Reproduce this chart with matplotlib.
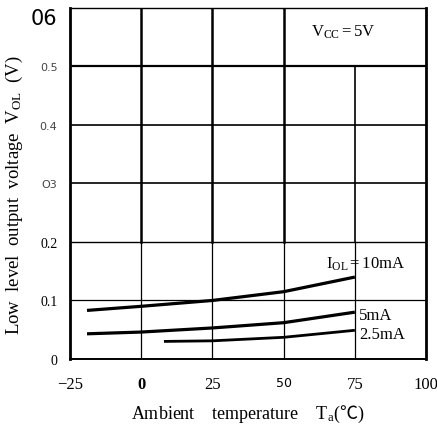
import numpy as np
import matplotlib.pyplot as plt

plt.rcParams['mathtext.fontset'] = 'custom'
plt.rcParams['mathtext.rm'] = 'Liberation Serif'
plt.rcParams['mathtext.it'] = 'Liberation Serif:italic'
plt.rcParams['mathtext.sf'] = 'Noto Sans CJK JP'

# Data
temp_ticks = [-25, 0, 25, 50, 75, 100]
temp_labels = ['\u221225', '0', '25', '50', '75', '100']
volt_ticks = [0, 0.1, 0.2, 0.3, 0.4, 0.5, 0.6]
volt_labels = ['0', '0.1', '0.2', 'O3', '0.4', '0.5', '06']

ta_10 = [-19, 0, 25, 50, 75]
vol_10 = [0.083, 0.090, 0.100, 0.115, 0.140]
ta_5 = [-19, 0, 25, 50, 75]
vol_5 = [0.043, 0.046, 0.053, 0.062, 0.080]
ta_25 = [8, 25, 50, 75]
vol_25 = [0.030, 0.031, 0.037, 0.049]

serif = ['Liberation Serif', 'DejaVu Serif']

fig = plt.figure(figsize=(4.37, 4.27), dpi=100)
ax = fig.add_axes([0.160, 0.157, 0.815, 0.822])
ax.set_xlim(-25, 100)
ax.set_ylim(0, 0.6)

# grid: heavier in the upper part, lighter below 0.2
for x in temp_ticks[1:4]:
    ax.plot([x, x], [0.2, 0.6], color='black', lw=1.8, zorder=1)
    ax.plot([x, x], [0, 0.2], color='black', lw=0.9, zorder=1)
ax.plot([75, 75], [0.2, 0.5], color='black', lw=1.2, zorder=1)
ax.plot([75, 75], [0, 0.2], color='black', lw=0.9, zorder=1)
hl_widths = {0.1: 0.9, 0.2: 1.0, 0.3: 1.2, 0.4: 1.2, 0.5: 1.6}
for y, w in hl_widths.items():
    ax.axhline(y, color='black', lw=w, zorder=1)

# curves
ax.plot(ta_10, vol_10, color='black', lw=2.3, solid_capstyle='butt', zorder=3)
ax.plot(ta_5, vol_5, color='black', lw=2.3, solid_capstyle='butt', zorder=3)
ax.plot(ta_25, vol_25, color='black', lw=2.0, solid_capstyle='butt', zorder=3)

ax.text(71, 0.56, r'V$_{\rm CC}$$=$5V', fontsize=12, family=serif,
        ha='center', va='center')
ax.text(65, 0.164, r'I$_{\rm OL}$$=$10mA', fontsize=12, family=serif,
        ha='left', va='center')
ax.text(76.5, 0.076, '5mA', fontsize=12, family=serif, ha='left', va='center')
ax.text(76.5, 0.043, '2.5mA', fontsize=12, family=serif, ha='left', va='center')

for side in ['left', 'right']:
    ax.spines[side].set_linewidth(2.0)
ax.spines['bottom'].set_linewidth(1.4)
ax.spines['top'].set_linewidth(1.0)

ax.set_xticks(temp_ticks)
ax.set_xticklabels(temp_labels, family=serif, fontsize=12)
ax.set_yticks(volt_ticks)
ax.set_yticklabels(volt_labels, family=serif, fontsize=10)
ax.tick_params(axis='x', length=0, pad=12)
ax.tick_params(axis='y', length=0, pad=9)
top_lab = ax.get_yticklabels()[-1]
top_lab.set_fontsize(15)
top_lab.set_family('DejaVu Sans')
top_lab.set_verticalalignment('top')
for lab in ax.get_yticklabels()[3:6]:
    lab.set_family('DejaVu Sans')
    lab.set_fontsize(8)
    lab.set_color('#444444')
ax.get_xticklabels()[3].set_family('DejaVu Sans')
ax.get_xticklabels()[3].set_fontsize(9)
ax.get_xticklabels()[1].set_fontweight('bold')

ax.set_xlabel('Ambient    temperature    T$_{\\rm a}$($\\mathsf{\u2103}$)',
              family=serif, fontsize=13)
ax.set_ylabel('Low  level  output  voltage  V$_{\\rm OL}$  (V)',
              family=serif, fontsize=13.5)
ax.xaxis.set_label_coords(0.5, -0.125)
ax.yaxis.set_label_coords(-0.125, 0.47)

fig.savefig('out.png', dpi=100)
